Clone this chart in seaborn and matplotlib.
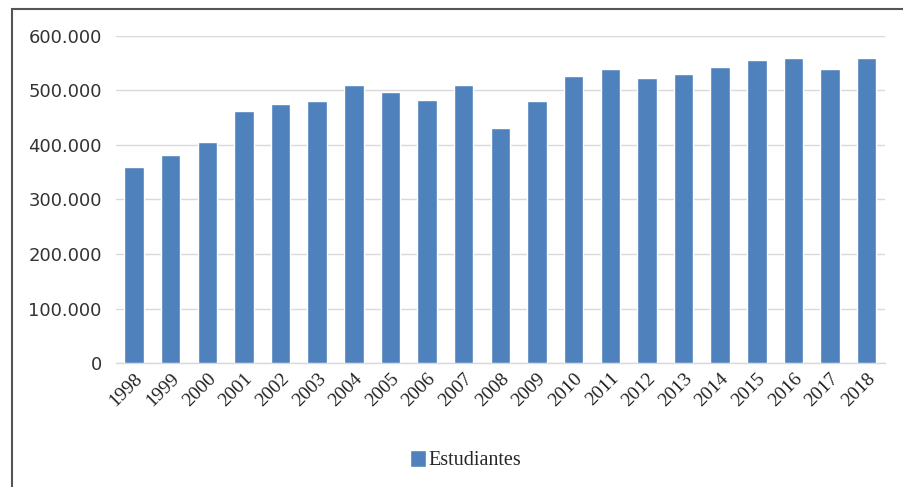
import numpy as np
import pandas as pd
import matplotlib
matplotlib.use("Agg")
import matplotlib.pyplot as plt
from matplotlib.patches import Rectangle, Patch
from matplotlib.ticker import FuncFormatter
import seaborn as sns

# datos
anios = [str(a) for a in range(1998, 2019)]
estudiantes = [359000, 382000, 405000, 462000, 476000, 480000, 510000,
               497000, 483000, 510000, 432000, 480000, 527000, 540000,
               523000, 530000, 543000, 556000, 560000, 540000, 560000]
serie = "Estudiantes"
yticks = [0, 100000, 200000, 300000, 400000, 500000, 600000]

df = pd.DataFrame({"Anio": anios, serie: estudiantes})

sns.set_style("white")
azul = "#4f81bd"

fig = plt.figure(figsize=(9.04, 4.87), dpi=100)
ax = fig.add_axes([0.128, 0.2546, 0.851, 0.6715])

sns.barplot(data=df, x="Anio", y=serie, color=azul, width=0.53,
            saturation=1, ax=ax, zorder=3)

ax.set_ylim(0, 600000)
ax.set_yticks(yticks)
ax.yaxis.set_major_formatter(FuncFormatter(lambda v, p: f"{int(v):,}".replace(",", ".")))
ax.grid(axis="y", color="#d9d9d9", linewidth=1, zorder=0)
ax.set_xlim(-0.5, len(anios) - 0.5)
for s in ["top", "right", "left"]:
    ax.spines[s].set_visible(False)
ax.spines["bottom"].set_color("#d9d9d9")
ax.spines["bottom"].set_linewidth(1)
ax.set_xlabel("")
ax.set_ylabel("")
ax.tick_params(axis="y", length=0, pad=10, labelsize=13, labelcolor="#333333")
ax.tick_params(axis="x", length=0, pad=5)
for lab in ax.get_yticklabels():
    lab.set_family("DejaVu Sans")
ax.set_xticks(range(len(anios)))
ax.set_xticklabels(anios, rotation=45, ha="right", rotation_mode="anchor",
                   family="Liberation Serif", fontsize=14, color="#222222")

# leyenda
fig.legend(handles=[Patch(facecolor=azul, label=serie)], loc="center",
           bbox_to_anchor=(0.515, 0.055), frameon=False,
           prop={"family": "Liberation Serif", "size": 14.5},
           handlelength=0.8, handleheight=0.9, handletextpad=0.15)

# marco exterior
fig.patches.append(Rectangle((12 / 904, -0.1), 1.2, 1 - 9 / 487 + 0.1,
                             transform=fig.transFigure, fill=False,
                             edgecolor="#555555", linewidth=1.5))

fig.savefig("out.png", dpi=100)
